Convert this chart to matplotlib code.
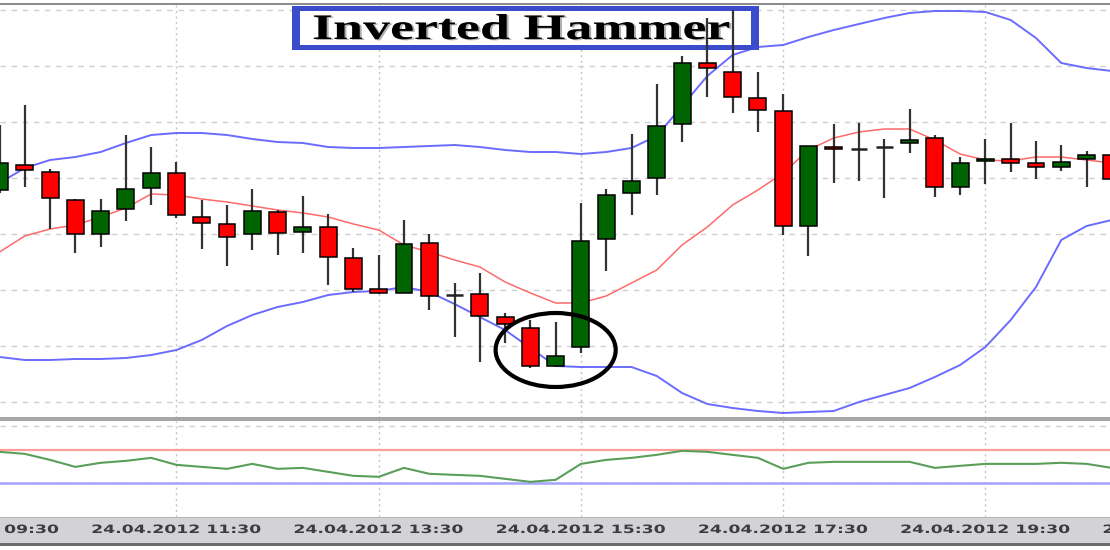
import matplotlib
matplotlib.use("Agg")
import matplotlib.pyplot as plt
from matplotlib.patches import Rectangle, Ellipse, PathPatch
from matplotlib.textpath import TextPath
from matplotlib.font_manager import FontProperties
from matplotlib.transforms import Affine2D

W, H = 1110, 550

# 15 minute candles on 24.04.2012, first visible one is 09:45
opens  = [230, 255, 248, 220, 186, 211, 232, 247, 203, 196, 186, 208, 188, 193, 162,
          131, 127, 177, 125, 126, 103, 92, 54, 73, 181, 227, 242, 296, 357, 348,
          322, 309, 194, 273, 271, 273, 277, 282, 233, 259, 261, 257, 253, 261, 265]
highs  = [295, 315, 251, 221, 221, 285, 273, 258, 220, 215, 231, 210, 224, 206, 172,
          165, 200, 186, 137, 147, 107, 100, 98, 217, 231, 286, 336, 364, 402, 410,
          348, 326, 274, 296, 297, 281, 311, 285, 263, 281, 297, 279, 275, 269, 270]
lows   = [227, 233, 191, 167, 173, 199, 215, 202, 171, 154, 170, 165, 167, 135, 128,
          126, 127, 110, 83, 58, 77, 52, 53, 67, 149, 205, 225, 278, 323, 307,
          288, 185, 164, 237, 239, 222, 267, 223, 225, 236, 248, 241, 249, 233, 235]
closes = [257, 250, 222, 186, 209, 231, 247, 205, 197, 183, 209, 187, 193, 163, 131,
          127, 176, 124, 125, 104, 96, 54, 64, 179, 225, 239, 294, 357, 352, 323,
          310, 194, 274, 271, 271, 273, 280, 233, 257, 261, 257, 253, 258, 265, 241]

# bollinger bands
upper  = [237, 252, 260, 263, 268, 277, 285, 287, 287, 285, 281, 278, 277, 273, 272,
          272, 273, 274, 275, 273, 270, 268, 268, 266, 268, 272, 284, 314, 344, 365,
          373, 375, 383, 390, 396, 402, 407, 409, 409, 408, 400, 382, 357, 352, 349]
middle = [168, 184, 191, 195, 203, 212, 226, 225, 221, 218, 214, 210, 207, 203, 196,
          190, 175, 168, 160, 153, 138, 127, 117, 117, 124, 137, 150, 175, 193, 215,
          230, 247, 270, 282, 288, 291, 291, 280, 266, 260, 259, 263, 263, 260, 257]
lower  = [63, 60, 60, 61, 61, 62, 65, 70, 80, 94, 105, 113, 118, 125, 128,
          129, 133, 128, 116, 103, 90, 72, 54, 53, 53, 53, 44, 27, 16, 12,
          9, 7, 8, 9, 18, 25, 32, 43, 55, 73, 100, 133, 180, 194, 200]

# oscillator in the lower window
osc = [68.1, 65.6, 58.2, 49.6, 54.6, 57.0, 60.7, 52.1, 49.6, 47.2, 53.3, 47.2, 48.4, 43.5, 38.6,
       37.4, 48.4, 41.1, 39.8, 38.6, 34.9, 31.2, 33.7, 53.3, 58.2, 60.7, 64.4, 69.3, 68.1, 64.4,
       60.7, 47.2, 54.6, 55.8, 55.8, 55.8, 55.8, 48.4, 50.9, 53.3, 53.3, 53.3, 54.6, 53.3, 48.4]
osc_high, osc_low = 70, 30

time_idx = [-1, 7, 15, 23, 31, 39, 47]
time_labels = ["24.04.2012 09:30", "24.04.2012 11:30", "24.04.2012 13:30", "24.04.2012 15:30",
               "24.04.2012 17:30", "24.04.2012 19:30", "24.04.2012 21:30"]
hammer = 22

fig = plt.figure(figsize=(W / 100, H / 100), dpi=100)
pix = Affine2D().scale(1 / W, 1 / H) + fig.transFigure

ax = fig.add_axes([0, 132 / H, 1, 413 / H])
ax_ind = fig.add_axes([0, 33 / H, 1, 96 / H])
ax_lab = fig.add_axes([0, 7 / H, 1, 26 / H], facecolor="#d3d3d7")

xlim = (0.5 / 25.28, 1110.5 / 25.28)
for a in (ax, ax_ind, ax_lab):
    a.set_xlim(*xlim)
    a.set_xticks([])
    a.set_yticks([])
    for s in a.spines.values():
        s.set_visible(False)
ax.set_ylim(2, 415)
ax_ind.set_ylim(-12, 106)
ax_lab.set_ylim(0, 1)

# grid
for g in range(18, 415, 56):
    ax.axhline(g, color="#cfcfcf", lw=1, dashes=(4, 4), zorder=0)
for g in [100, 30]:
    ax_ind.axhline(g, color="#cfcfcf", lw=1, dashes=(4, 4), zorder=0)
for t in time_idx:
    ax.axvline(t, color="#c4c4c4", lw=1, dashes=(1.5, 2.5), zorder=0)
    ax_ind.axvline(t, color="#c4c4c4", lw=1, dashes=(1.5, 2.5), zorder=0)

xs = list(range(len(opens)))

# bands
ax.plot(xs, upper, color="#6b6bff", lw=1.4, zorder=2)
ax.plot(xs, lower, color="#6b6bff", lw=1.4, zorder=2)
ax.plot(xs, middle, color="#ff6a6a", lw=1.1, zorder=2)

# candles
ax.vlines(xs, lows, highs, color="#333333", lw=1.6, zorder=4)
for i in xs:
    o, c = opens[i], closes[i]
    if o == c:
        ax.hlines(o, i - 0.33, i + 0.33, color="#222222", lw=1.8, zorder=5)
    else:
        col = "#006400" if c > o else "#ff0000"
        ax.bar(i, abs(c - o), bottom=min(o, c), width=0.67, color=col,
               edgecolor="black", linewidth=1.1, zorder=5)

ax.add_patch(Ellipse((hammer, 70), 4.75, 74, fill=False, ec="black", lw=3, zorder=6))


def stretched_text(axis, s, x, y_top, size, sx, family, color, center=False, z=10):
    tp = TextPath((0, 0), s, size=size, prop=FontProperties(family=family, weight="bold"))
    bb = tp.get_extents()
    x0 = x - (bb.x0 + bb.width / 2) * sx if center else x
    tr = Affine2D().scale(sx, 1).translate(x0, H - y_top) + pix
    axis.add_patch(PathPatch(tp, transform=tr, fc=color, ec="none", zorder=z))


# title box
ax.add_patch(Rectangle((292, H - 50), 467, 44, transform=pix, fc="#3a4ccc", ec="none",
                       zorder=3.5, clip_on=False))
ax.add_patch(Rectangle((300, H - 45), 451, 34, transform=pix, fc="white", ec="none",
                       zorder=3.5, clip_on=False))
stretched_text(ax, "Inverted Hammer", 314, 40, 36, 1.5, "Liberation Serif", "#b0b0b0", z=3.55)
stretched_text(ax, "Inverted Hammer", 312, 39, 36, 1.5, "Liberation Serif", "#000000", z=3.6)

# oscillator window
ax_ind.axhline(osc_high, color="#ff9c9c", lw=1.6, zorder=1)
ax_ind.axhline(osc_low, color="#a4a4ff", lw=1.8, zorder=1)
ax_ind.plot(xs, osc, color="#5a9e5a", lw=1.5, zorder=3)

# time labels
for t, lab in zip(time_idx, time_labels):
    px = ax_lab.transData.transform((t, 0))[0]
    stretched_text(ax_lab, lab, px, 533, 11.5, 1.5, "DejaVu Sans", "#3c3c3c", center=True)

# frame pieces
for y0, hgt, col in [(H - 5, 2, "#8c8c8c"), (H - 421, 4, "#a6a6a6"),
                     (H - 518, 1, "#b4b4b4"), (H - 546, 3, "#6c6c6c")]:
    fig.add_artist(Rectangle((0, y0), W, hgt, transform=pix, fc=col, ec="none"))

fig.savefig("out.png", dpi=100)
